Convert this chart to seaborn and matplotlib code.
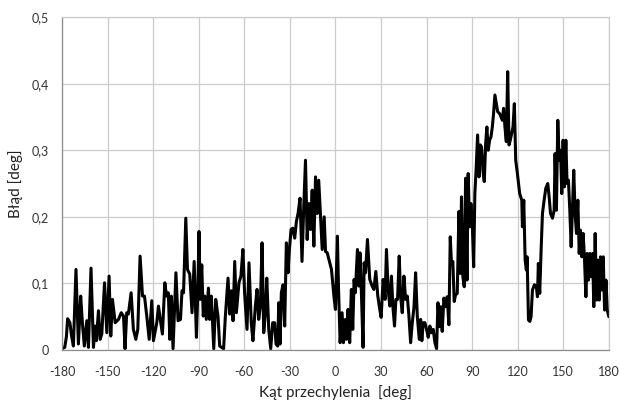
import numpy as np
import pandas as pd
import seaborn as sns
import matplotlib.pyplot as plt
from matplotlib.ticker import FuncFormatter

# values, split into chunks along the x axis
angle_a = [-180, -178.2, -177.1, -176.3, -174.8, -173.7, -172.5, -170.8, -169.2, -167.7,
           -166.6, -165.3, -163.7, -162.6, -160.9, -159.3, -158.2, -157.4, -156, -154.9,
           -153.8, -152, -150.5, -149, -147.9, -146.8, -145, -142.8, -141, -139.5,
           -138.5, -137.4, -136.3, -134.5, -133, -131.4, -130.1, -128.6, -127, -125.7,
           -124.2, -122.6, -120.9, -119.8, -117.6, -116.5]
error_a = [0.002, 0.004, 0.02, 0.047, 0.041, 0.021, 0.006, 0.121, 0.009, 0.081,
           0.041, 0.006, 0.044, 0.004, 0.123, 0.004, 0.036, 0.014, 0.059, 0.016,
           0.024, 0.101, 0.026, 0.111, 0.021, 0.076, 0.041, 0.046, 0.056, 0.051,
           0.002, 0.056, 0.054, 0.086, 0.031, 0.016, 0.031, 0.141, 0.081, 0.081,
           0.051, 0.016, 0.074, 0.014, 0.041, 0.066]

angle_b = [-115.6, -113.9, -112.3, -111.2, -110, -109, -108, -106.9, -105, -103.6,
           -102, -101, -100, -98.5, -97.4, -95.9, -94.4, -93, -91.5, -90.6,
           -89.8, -89, -88, -87, -86, -85, -83.6, -82.8, -81.7, -80.1,
           -78.8, -77.3, -76.2, -73.6, -72.5, -70.7, -69.6, -68.5, -67.4, -66.3,
           -65.2, -63.5, -62.2, -60.9, -59.8, -58.2, -56.9, -55.4, -54.3]
error_b = [0.051, 0.024, 0.101, 0.081, 0.086, 0.016, 0.081, 0.002, 0.116, 0.044,
           0.046, 0.089, 0.086, 0.198, 0.121, 0.114, 0.056, 0.133, 0.019, 0.086,
           0.178, 0.076, 0.128, 0.051, 0.081, 0.046, 0.093, 0.046, 0.081, 0.002,
           0.076, 0.051, 0.006, 0.002, 0.049, 0.108, 0.054, 0.089, 0.044, 0.133,
           0.056, 0.101, 0.111, 0.151, 0.086, 0.031, 0.131, 0.041, 0.014]

angle_c = [-52.7, -51.6, -50.5, -49.4, -48.3, -47.2, -46.1, -45.2, -43.9, -42.6,
           -41.3, -40, -39.1, -38, -37.3, -36.4, -35.6, -34.5, -33.4, -32.3,
           -31.2, -30.3, -29.2, -28.1, -26.8, -25.7, -24.6, -23.3, -22, -20.8,
           -19.7, -18.6, -17.5, -16.4, -15.3, -14.2, -13.1, -12, -11, -9.8,
           -8.7, -7.4, -6.5, -5.4, -4.3, -2.6, -1.0]
error_c = [0.066, 0.091, 0.046, 0.066, 0.161, 0.026, 0.056, 0.108, 0.031, 0.002,
           0.041, 0.041, 0.009, 0.006, 0.071, 0.009, 0.086, 0.098, 0.036, 0.161,
           0.116, 0.151, 0.181, 0.183, 0.168, 0.193, 0.205, 0.228, 0.133, 0.218,
           0.285, 0.166, 0.220, 0.181, 0.240, 0.156, 0.260, 0.205, 0.255, 0.200,
           0.151, 0.200, 0.148, 0.146, 0.136, 0.121, 0.081]

angle_d = [0, 1.3, 2, 3.1, 4.4, 5.3, 6.6, 7.3, 8.3, 9.4,
           10.5, 11.4, 12.3, 13.1, 14.5, 15.4, 16.2, 17.1, 18.2, 18.9,
           19.8, 21.1, 22.6, 24.2, 25.3, 26.6, 27.9, 29.2, 30.1, 31.4,
           32.7, 33.6, 34.7, 35.8, 36.9, 37.8, 38.9, 39.8, 40.9, 42,
           42.9, 44, 45.1, 46.2, 47.3, 48.4, 49.5, 50.6, 51.7, 52.8,
           53.9, 55.2, 56.1, 56.9, 57.8, 58.9, 60, 61.1, 62.2, 63.1,
           64.4, 65.5, 66.6, 67.5]
error_d = [0.061, 0.171, 0.096, 0.011, 0.056, 0.011, 0.046, 0.016, 0.061, 0.011,
           0.091, 0.031, 0.106, 0.086, 0.151, 0.096, 0.146, 0.086, 0.004, 0.131,
           0.116, 0.166, 0.106, 0.096, 0.091, 0.118, 0.081, 0.061, 0.049, 0.106,
           0.076, 0.151, 0.091, 0.066, 0.111, 0.066, 0.036, 0.076, 0.076, 0.141,
           0.081, 0.056, 0.111, 0.076, 0.081, 0.051, 0.011, 0.041, 0.064, 0.116,
           0.051, 0.016, 0.046, 0.014, 0.041, 0.041, 0.031, 0.019, 0.036, 0.026,
           0.031, 0.011, 0.002, 0.071]

angle_e = [68.5, 69.4, 70.3, 71.4, 72.5, 73.6, 74.7, 75.6, 76.4, 77.3,
           78.2, 79.1, 80.2, 81.3, 82.2, 83, 83.9, 84.8, 85.7, 86.6,
           87.4, 88.3, 89.2, 90.1, 91, 91.8, 92.7, 93.6, 94.5, 95.4,
           96.2, 97.1, 98, 98.9, 99.7, 100.6, 101.5, 102.4, 103.3, 104.1,
           105, 105.9, 106.8, 108.1, 109, 109.9, 110.7, 111.6, 112.5, 113.4,
           114.3, 115.1, 116, 116.9, 117.8, 118.7]
error_e = [0.035, 0.065, 0.028, 0.078, 0.065, 0.080, 0.038, 0.170, 0.130, 0.133,
           0.073, 0.083, 0.085, 0.208, 0.115, 0.230, 0.110, 0.095, 0.258, 0.105,
           0.265, 0.185, 0.220, 0.190, 0.125, 0.235, 0.275, 0.323, 0.260, 0.308,
           0.305, 0.270, 0.253, 0.310, 0.335, 0.300, 0.315, 0.320, 0.335, 0.355,
           0.383, 0.370, 0.358, 0.355, 0.350, 0.345, 0.363, 0.335, 0.313, 0.418,
           0.308, 0.315, 0.325, 0.335, 0.370, 0.285]

angle_f = [119.8, 121.3, 122.7, 123.1, 124, 124.9, 125.7, 126.2, 127.1, 128,
           128.8, 129.7, 131, 132.3, 133, 133.6, 134.5, 135.4, 136.3, 137.4,
           138.5, 139.8, 140.7, 141.6, 142.9, 144, 144.6, 145.5, 146.4, 147.3,
           148.2, 149, 149.9, 150.8, 151.7, 152.5, 153.4, 154.3, 155.2, 156.1,
           156.9, 157.8, 158.7, 159.6, 160.5, 161.3, 162.2, 163.1, 164, 164.9,
           165.7, 166.6, 167.5, 168.4, 169.3, 170.1, 171, 171.9, 172.8, 173.7,
           174.5, 175.4, 176.3, 177.2, 178.1, 179, 180]
error_f = [0.265, 0.235, 0.225, 0.185, 0.225, 0.135, 0.120, 0.140, 0.045, 0.043,
           0.050, 0.090, 0.098, 0.095, 0.080, 0.130, 0.085, 0.150, 0.205, 0.225,
           0.243, 0.250, 0.230, 0.205, 0.198, 0.210, 0.295, 0.210, 0.345, 0.285,
           0.300, 0.235, 0.315, 0.245, 0.315, 0.250, 0.255, 0.210, 0.155, 0.215,
           0.270, 0.205, 0.175, 0.225, 0.145, 0.180, 0.140, 0.175, 0.135, 0.080,
           0.145, 0.105, 0.145, 0.110, 0.145, 0.065, 0.175, 0.075, 0.135, 0.075,
           0.140, 0.090, 0.140, 0.060, 0.105, 0.060, 0.050]

x_ticks = [-180, -150, -120, -90, -60, -30, 0, 30, 60, 90, 120, 150, 180]
y_ticks = [0, 0.1, 0.2, 0.3, 0.4, 0.5]

df = pd.DataFrame({
    "angle": angle_a + angle_b + angle_c + angle_d + angle_e + angle_f,
    "error": error_a + error_b + error_c + error_d + error_e + error_f,
})

sns.set_style("white")
plt.rcParams["font.family"] = ["Lato", "DejaVu Sans"]
plt.rcParams["axes.unicode_minus"] = False

fig = plt.figure(figsize=(6.2, 4.07), dpi=100)
ax = fig.add_axes([0.1, 0.14, 0.882, 0.818])

sns.lineplot(data=df, x="angle", y="error", ax=ax, color="black",
             linewidth=2.2, sort=False, estimator=None)

ax.set_xlim(-180, 180)
ax.set_ylim(0, 0.5)
ax.set_xticks(x_ticks)
ax.set_yticks(y_ticks)
ax.yaxis.set_major_formatter(FuncFormatter(
    lambda v, p: "0" if v == 0 else f"{v:.1f}".replace(".", ",")))

ax.grid(True, color="#cccccc", linewidth=0.9)
ax.set_axisbelow(True)
for side in ["top", "right"]:
    ax.spines[side].set_color("#cccccc")
    ax.spines[side].set_linewidth(0.9)
for side in ["left", "bottom"]:
    ax.spines[side].set_color("#8c8c8c")
    ax.spines[side].set_linewidth(0.9)

ax.tick_params(axis="both", direction="out", length=3.6, width=0.8,
               color="#8c8c8c", labelsize=9, labelcolor="#333333")
ax.tick_params(axis="x", pad=8)
ax.tick_params(axis="y", pad=6)

ax.set_xlabel("Kąt przechylenia  [deg]", fontsize=11, color="#222222", labelpad=5)
ax.set_ylabel("Błąd [deg]", fontsize=11, color="#222222", labelpad=6)

fig.savefig("out.png", dpi=100)
